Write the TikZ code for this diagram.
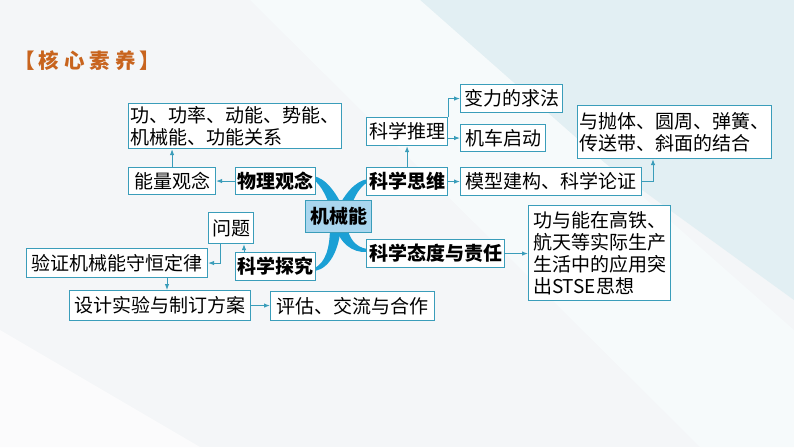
\documentclass[tikz,border=0pt]{standalone}
\usepackage{fontspec}
\newfontfamily\cjk{Noto Sans CJK SC}
\usetikzlibrary{arrows.meta,calc}
\definecolor{boxc}{HTML}{3A9DBA}
\definecolor{legc}{HTML}{1BA0D5}
\definecolor{titc}{HTML}{C8641E}
\definecolor{cenf}{HTML}{A9D6EE}
\definecolor{bgA}{HTML}{F4F6F8}
\definecolor{bgB}{HTML}{E2EFF3}
\tikzset{
  box/.style={draw=boxc, line width=1.1pt, fill=white, inner sep=2pt, anchor=north west,
    font=\cjk\fontsize{19}{22.5}\selectfont, text=black},
  catbox/.style={box, font=\cjk\bfseries\fontsize{19}{22.5}\selectfont},
  arr/.style={draw=boxc, line width=1pt, -{Latex[length=6pt,width=4.5pt]}},
  leg/.style={fill=legc, draw=none}
}
\begin{document}
\begin{tikzpicture}[x=1pt,y=-1pt]
\useasboundingbox (0,0) rectangle (794,447);
% background
\fill[bgA] (0,0) rectangle (794,447);
\fill[bgB] (380,0) -- (794,0) -- (794,300) -- cycle;
\fill[white!70!bgB] (250,0) -- (420,0) -- (794,330) -- (794,447) -- (700,447) -- cycle;
\fill[white!60!bgA] (0,447) -- (0,330) -- (200,447) -- cycle;

% title
\node[font=\cjk\bfseries\fontsize{20.5}{24}\selectfont, text=titc, anchor=west, inner sep=0pt] (title) at (14,61)
  {【\hspace{4pt}核\hspace{5pt}心\hspace{5pt}素\hspace{5pt}养\hspace{4pt}】};

% legs
\fill[leg] (313,176) .. controls (326,178) and (337,193) .. (346,214) -- (333,218) .. controls (328,198) and (322,186) .. (313,179) -- cycle;
\fill[leg] (368,179) .. controls (355,181) and (344,194) .. (335,214) -- (348,218) .. controls (352,200) and (358,188) .. (368,182) -- cycle;
\fill[leg] (315,271) .. controls (330,268) and (339,250) .. (341,226) -- (330,226) .. controls (330,250) and (325,262) .. (315,268) -- cycle;
\fill[leg] (367,249) .. controls (355,247) and (349,238) .. (347,226) -- (335,226) .. controls (340,243) and (352,253) .. (367,252) -- cycle;

% nodes
\node[box, minimum width=210pt, minimum height=45pt, align=left] (k1) at (128,103)
  {功、功率、动能、势能、\\机械能、功能关系};
\node[box, minimum width=87pt, minimum height=27pt] (nl) at (128,167) {能量观念};
\node[catbox, minimum width=79pt, minimum height=27pt] (wl) at (235,167) {物理观念};
\node[catbox, fill=cenf, minimum width=66pt, minimum height=32pt] (jx) at (305,200) {机械能};
\node[catbox, minimum width=81pt, minimum height=28pt] (sw) at (366,167) {科学思维};
\node[box, minimum width=81pt, minimum height=28pt] (tl) at (366,117) {科学推理};
\node[box, minimum width=102pt, minimum height=28pt] (bl) at (460,84) {变力的求法};
\node[box, minimum width=85pt, minimum height=27pt] (jc) at (460,124) {机车启动};
\node[box, minimum width=181pt, minimum height=28pt] (mx) at (460,167) {模型建构、科学论证};
\node[box, minimum width=190pt, minimum height=53pt, align=left] (pt) at (577,105)
  {与抛体、圆周、弹簧、\\传送带、斜面的结合};
\node[catbox, minimum width=138pt, minimum height=28pt] (td) at (366,239) {科学态度与责任};
\node[box, minimum width=142pt, minimum height=95pt, align=left, font=\cjk\fontsize{19}{22}\selectfont] (gn) at (528,205)
  {功与能在高铁、\\航天等实际生产\\生活中的应用突\\出STSE思想};
\node[catbox, minimum width=80pt, minimum height=28pt] (tj) at (235,252) {科学探究};
\node[box, minimum width=45pt, minimum height=31pt] (wt) at (208,212) {问题};
\node[box, minimum width=181pt, minimum height=29pt] (yz) at (26,248) {验证机械能守恒定律};
\node[box, minimum width=181pt, minimum height=30pt] (sj) at (69,290) {设计实验与制订方案};
\node[box, minimum width=164pt, minimum height=29pt] (pg) at (270,291) {评估、交流与合作};

% connectors
\draw[arr] (wl.west) -- (nl.east);
\draw[arr] (nl.north) -- (nl.north |- k1.south);
\draw[arr] (sw.north) -- (tl.south);
\draw[arr] (tl.east |- jc.west) -- (jc.west);
\draw[arr] (tl.north east) |- (bl.west);
\draw[arr] (sw.east) -- (mx.west);
\coordinate (ptin) at ($(pt.south west)+(76,0)$);
\draw[arr] (mx.east) -| (ptin);
\draw[arr] (td.east) -- (gn.west |- td.east);
\coordinate (wtin) at ($(wt.south west)+(36,0)$);
\draw[arr] (wtin |- tj.north) -- (wtin);
\coordinate (wtout) at ($(wt.south west)+(12,0)$);
\draw[arr] (wtout) |- (yz.east);
\coordinate (yzout) at ($(yz.south west)+(141,0)$);
\draw[arr] (yzout) -- (yzout |- sj.north);
\draw[arr] (sj.east) -- (pg.west |- sj.east);
\end{tikzpicture}
\end{document}
